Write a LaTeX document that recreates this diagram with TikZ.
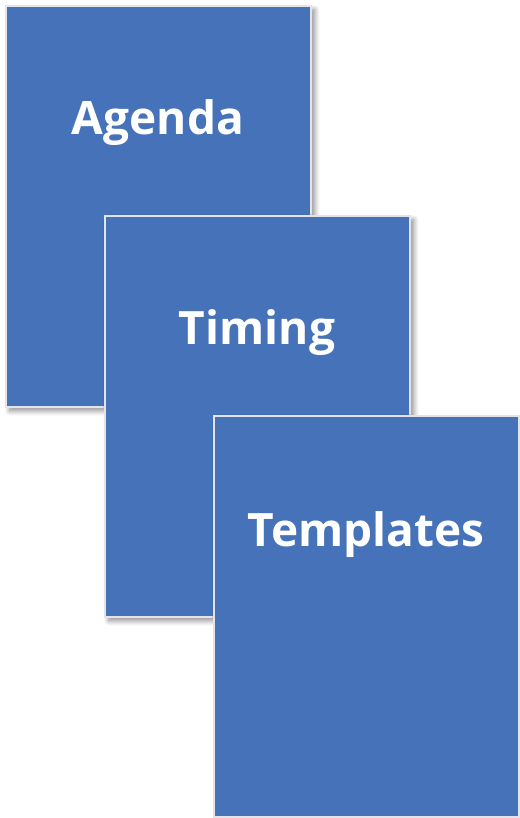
\documentclass[tikz,border=0pt]{standalone}
\usepackage{fontspec}
\setmainfont{Open Sans}
\usetikzlibrary{shadows.blur}
\definecolor{cardblue}{HTML}{4672B9}
\definecolor{cardedge}{HTML}{E2E4E8}
\tikzset{
  card/.style={draw=cardedge, line width=1.6pt, fill=cardblue,
    blur shadow={shadow xshift=4pt, shadow yshift=-4pt, shadow blur radius=5pt,
      shadow blur steps=10, shadow opacity=45}},
  cardtext/.style={text=white, font=\fontsize{46}{50}\selectfont\bfseries, anchor=center}
}
\begin{document}
\begin{tikzpicture}[x=1pt,y=-1pt]
  \useasboundingbox (0,0) rectangle (519,818);
  % three stacked cards, back to front
  \node[card, minimum width=305pt, minimum height=401pt, anchor=north west, inner sep=0pt] (agenda) at (5,5) {};
  \node[cardtext] (agendaText) at (158,123) {Agenda};
  \node[card, minimum width=305pt, minimum height=401pt, anchor=north west, inner sep=0pt] (timing) at (104,215) {};
  \node[cardtext] (timingText) at (257,333) {Timing};
  \node[card, minimum width=305pt, minimum height=401pt, anchor=north west, inner sep=0pt] (templates) at (213,415) {};
  \node[cardtext] (templatesText) at (366,535) {Templates};
\end{tikzpicture}
\end{document}
